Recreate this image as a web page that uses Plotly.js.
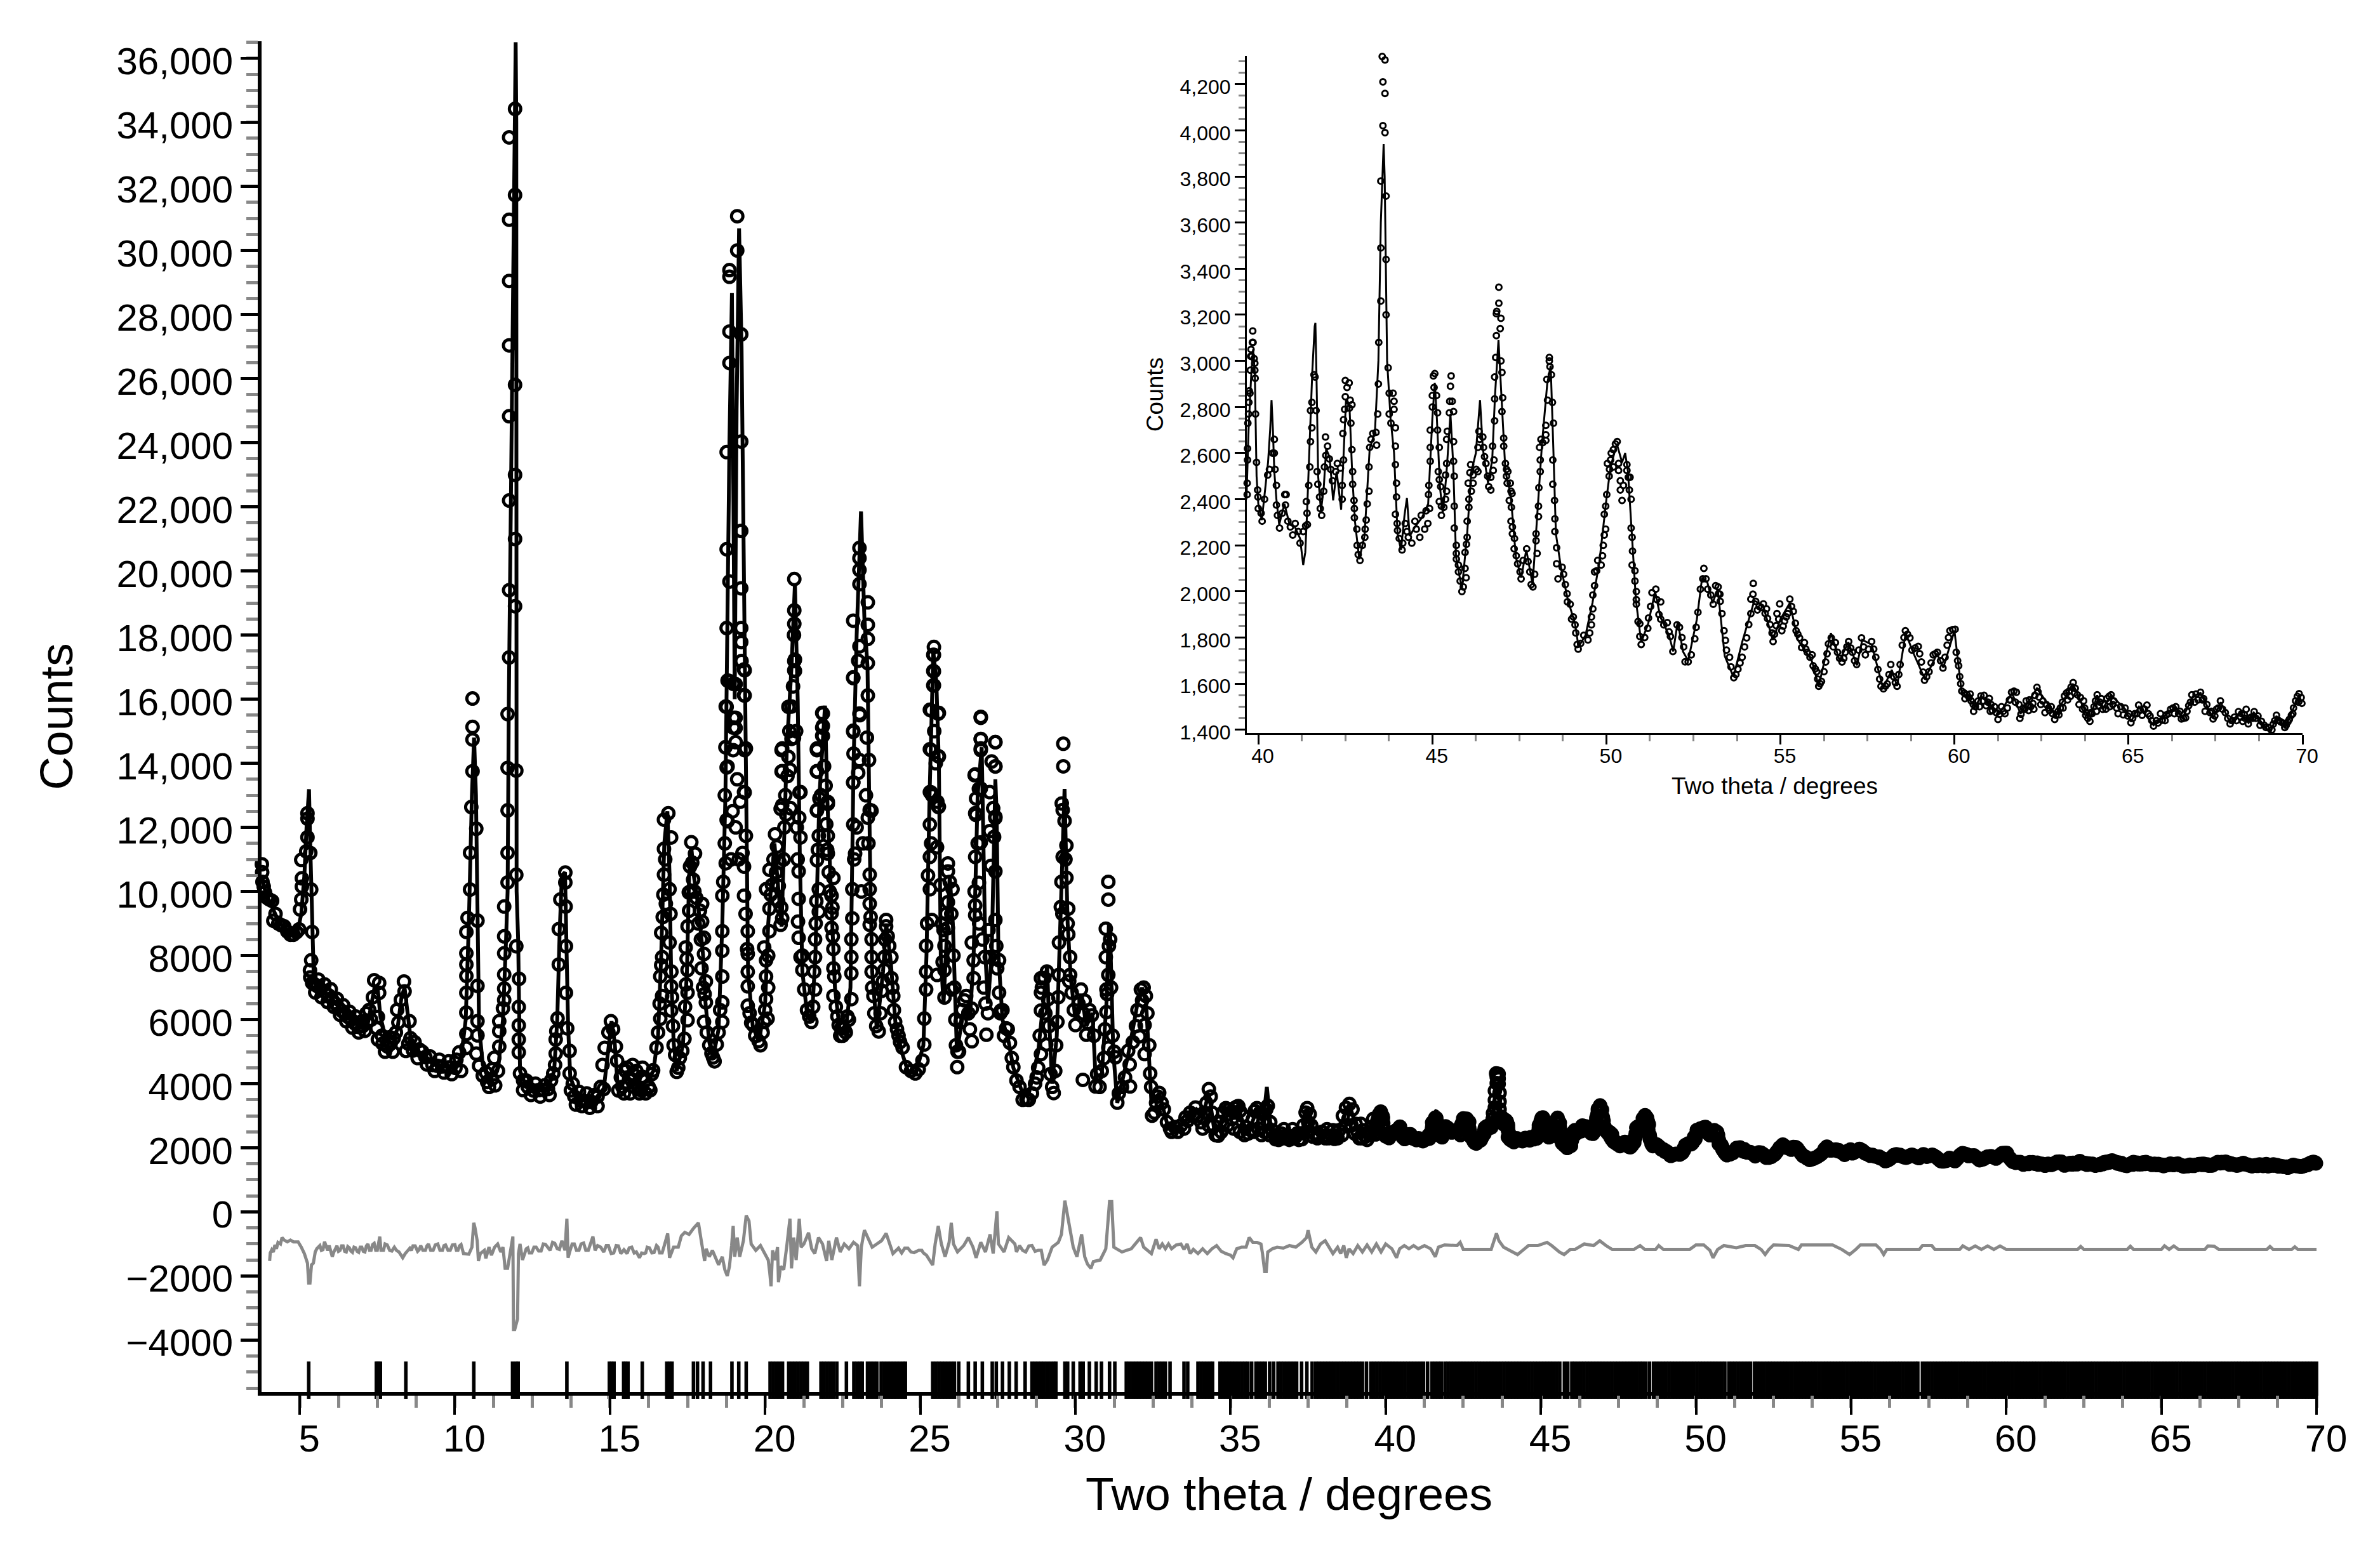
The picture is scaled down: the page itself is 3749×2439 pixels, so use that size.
<!DOCTYPE html>
<html><head><meta charset="utf-8">
<script src="https://cdn.plot.ly/plotly-3.0.1.min.js"></script>
<style>html,body{margin:0;padding:0;background:#fff}</style></head>
<body><div id="chart" style="width:3749px;height:2439px"></div>
<script>
// Observed counts as [two theta, counts]
const obsLow=[[3.78,10850],[3.79,10600],[3.8,10300],[3.84,10150],[3.88,9970],[3.95,9800],[4.02,9750],[4.11,9705],[4.15,9087],[4.22,9300],[4.31,9000],[4.4,8950],[4.5,8910],[4.6,8750],[4.7,8650],[4.8,8650],[4.9,8730],[4.98,8820],[5.01,9440],[5.05,9750],[5.07,10150],[5.07,10410],[5.05,10985],[5.21,11250],[5.25,11690],[5.25,12270],[5.25,12440],[5.34,11200],[5.37,10060],[5.4,8735],[5.37,7850],[5.33,7540],[5.34,7320],[5.4,7145],[5.48,7100],[5.56,7055],[5.68,6950],[5.8,6880],[5.92,6770],[6.03,6660],[6.13,6520],[6.23,6395],[6.35,6280],[6.46,6175],[6.56,6080],[6.66,6000],[6.78,5880],[6.89,5775],[7.03,5800],[7.17,5910],[7.24,6305],[7.36,6700],[7.4,7230],[7.56,7145],[7.56,6835],[7.52,6085],[7.48,5730],[7.52,5380],[7.67,5250],[7.83,5160],[7.93,5250],[8.03,5420],[8.18,5910],[8.14,6305],[8.26,6615],[8.36,7190],[8.38,6880],[8.54,5950],[8.57,5420],[8.42,5025],[8.65,5040],[8.85,5070],[9.05,4830],[9.28,4585],[9.43,4560],[9.59,4540],[9.8,4510],[10.02,4495],[10.14,4980],[10.37,5120],[10.37,5555],[10.37,6220],[10.37,6835],[10.37,7365],[10.37,7720],[10.37,8070],[10.37,8735],[10.41,9175],[10.49,10060],[10.49,11205],[10.53,12635],[10.57,13750],[10.57,14740],[10.57,15135],[10.57,16020],[10.69,11955],[10.73,9090],[10.73,7055],[10.73,5950],[10.73,5510],[10.69,4940],[10.78,4560],[10.9,4250],[11.04,4055],[11.2,4150],[11.39,4400],[11.27,4805],[11.43,5160],[11.43,5640],[11.43,5950],[11.55,6350],[11.59,6615],[11.59,6970],[11.59,7410],[11.59,8070],[11.59,8600],[11.59,9530],[11.7,10280],[11.7,11205],[11.7,12530],[11.7,13855],[11.7,15535],[11.75,17300],[11.75,19400],[11.75,22200],[11.75,24830],[11.75,27040],[11.75,29050],[11.75,30960],[11.75,33530],[11.94,34420],[11.94,31730],[11.94,25810],[11.94,18900],[11.94,21000],[11.94,23000],[11.98,13770],[11.98,10520],[11.98,8290],[12.07,7275],[12.06,6395],[12.06,5820],[12.06,5380],[12.06,4980],[12.1,4320],[12.2,4100],[12.35,3900],[12.53,3790],[12.7,3800],[12.85,3810],[13.0,3835],[13.17,4320],[13.23,4585],[13.25,4940],[13.25,5380],[13.27,5640],[13.31,6040],[13.35,7720],[13.35,8825],[13.4,9750],[13.57,9530],[13.56,10280],[13.56,10590],[13.58,8290],[13.58,6835],[13.62,5730],[13.7,5025],[13.7,4320],[13.74,3790],[13.85,3600],[14.05,3480],[14.2,3450],[14.4,3435],[14.6,3600],[14.8,3835],[14.76,4585],[14.83,5120],[14.95,5600],[15.03,5950],[15.1,5700],[15.19,5160],[15.23,4715],[15.27,3790],[15.4,3900],[15.5,4400],[15.62,4200],[15.73,4585],[15.78,3900],[15.85,4400],[15.92,3850],[16.0,3800],[16.15,4100],[16.25,3900],[16.35,4300]];
const obsMid=[[16.03,4220],[16.39,4420],[16.5,5125],[16.62,6030],[16.68,6740],[16.62,7350],[16.68,7950],[16.65,8710],[16.8,9615],[16.74,10525],[16.74,11330],[16.74,12240],[16.88,12440],[16.97,11685],[16.92,10070],[16.92,8405],[16.97,7040],[16.97,6285],[17.05,5200],[17.15,4370],[17.33,5025],[17.5,5985],[17.5,6840],[17.5,7550],[17.44,8255],[17.5,8910],[17.54,9970],[17.58,10780],[17.62,11535],[17.74,11180],[17.68,10370],[17.97,9615],[17.97,9060],[18.03,8555],[18.03,8050],[18.09,7195],[18.09,6540],[18.03,5930],[18.32,4820],[18.44,5225],[18.62,5930],[18.62,6540],[18.62,7345],[18.62,8150],[18.62,8760],[18.62,9870],[18.73,10880],[18.79,12190],[18.79,13900],[18.73,15770],[18.79,16580],[18.97,14410],[18.97,15115],[18.97,15420],[18.97,16480],[19.32,16930],[19.32,16125],[19.38,14460],[19.32,13100],[19.38,11735],[19.32,10775],[19.32,9870],[19.44,8760],[19.44,8050],[19.44,7495],[19.44,7040],[19.44,6435],[19.61,5830],[19.79,5330],[19.97,5930],[20.08,6030],[20.03,6640],[20.03,7345],[20.03,7850],[19.97,8255],[20.14,8760],[20.14,9465],[20.03,10070],[20.14,10675],[20.32,11785],[20.5,8960],[20.55,9160],[20.44,10170],[20.55,12690],[20.55,13755],[20.55,14460],[20.85,14760],[20.85,15770],[20.96,16880],[20.96,17235],[21.14,13100],[21.14,11685],[21.08,10625],[21.08,9770],[21.06,9060],[21.08,8555],[21.14,7950],[21.2,7550],[21.26,6940],[21.35,6300],[21.49,5930],[21.61,6940],[21.61,7950],[21.61,8505],[21.73,9365],[21.73,10070],[21.67,10975],[21.73,11735],[21.67,12540],[21.67,13755],[21.67,14460],[21.84,15570],[21.84,15115],[21.84,14860],[21.9,13905],[22.02,12795],[22.02,11735],[22.02,11180],[22.2,10420],[22.14,9870],[22.14,9315],[22.14,8860],[22.2,8205],[22.23,7345],[22.2,6740],[22.37,5830],[22.46,5750],[22.55,5730],[22.65,6100],[22.78,6640],[22.78,7445],[22.78,7950],[22.78,8505],[22.81,9160],[22.81,10070],[22.84,12090],[22.9,11180],[22.84,13400],[22.84,15015],[22.84,16680],[23.31,12300],[23.37,12540],[23.37,10525],[23.37,10070],[23.37,9615],[23.37,8960],[23.43,8505],[23.43,7950],[23.43,7495],[23.49,6740],[23.66,5630],[23.9,9110],[23.9,8910],[23.84,7950],[23.84,7550],[24.07,7950],[24.07,7295],[24.13,6740],[24.19,5930],[24.3,5500],[24.43,5125],[24.54,4520],[24.7,4400],[24.84,4320],[24.95,4450],[25.07,4725],[25.13,5225],[25.13,6035],[25.19,6940],[25.19,7495],[25.19,8305],[25.37,9110],[25.31,10070],[25.31,11080],[25.31,12090],[25.31,13100],[25.31,14440],[25.31,15670],[25.42,16430],[25.42,16880],[25.42,17385],[25.6,15570],[25.6,14210],[25.6,12645],[25.54,11380],[25.54,7395],[25.78,6690],[25.78,8305],[25.78,7545],[25.89,8860],[25.89,9665],[26.04,10070],[25.89,10875],[25.89,10625],[26.01,6940],[26.19,4520],[26.3,5930],[26.48,6740],[26.66,5325],[26.66,6340],[26.72,7295],[26.72,7850],[26.66,8405],[26.77,9260],[26.77,9565],[26.77,11080],[26.77,12440],[26.77,13650],[26.95,15420],[26.95,14760],[26.95,14460],[26.89,13200],[26.95,11530],[26.89,10270],[27.24,11885],[27.24,13100],[27.3,14055],[27.42,13905],[27.42,14660],[27.42,12290],[27.42,10625],[27.42,9110],[27.54,7850],[27.54,6840],[27.07,7950],[27.24,7950],[27.13,5530],[27.6,6285],[27.77,5730],[27.89,5275],[28.0,4520],[28.2,3900],[28.42,3510],[28.6,3700],[28.75,4200],[28.89,4925],[28.89,6285],[28.89,6840],[28.89,7295],[29.12,6640],[29.06,5225],[29.2,4300],[29.3,3710],[29.42,5930],[29.47,7395],[29.47,8405],[29.53,9515],[29.59,11080],[29.56,12745],[29.59,12540],[29.71,10425],[29.71,11435],[29.61,13905],[29.61,14610],[29.77,9465],[29.77,8660],[29.83,7950],[29.83,7395],[29.88,6840],[30.18,6940],[30.3,6590],[30.0,5830],[30.53,6135],[30.35,5530],[30.24,4120],[30.65,3915],[30.85,4400],[31.06,5125],[31.0,6235],[31.0,6940],[31.06,7395],[30.98,7950],[31.12,8505],[30.98,8840],[31.06,9745],[31.06,10300],[31.29,4825],[31.35,3410],[31.5,3900],[31.7,5025],[32.11,6940],[32.27,6740],[32.23,5830],[32.06,5480],[31.76,3915],[32.23,4925],[32.41,4320],[32.47,3005],[32.6,3400],[32.7,3715],[32.85,3200],[33.05,2600],[33.2,2650],[33.4,2700],[33.55,2950],[33.7,3100],[33.87,3260],[33.95,3000]];
const obsPeaks=[[19.1,31070],[19.1,30000],[18.85,29390],[18.85,29180],[18.85,27470],[19.23,27385],[18.85,26490],[19.23,24040],[18.76,23710],[19.23,21250],[18.76,20680],[18.85,19670],[19.23,19460],[18.76,18220],[19.23,18220],[19.23,17780],[19.24,17190],[19.34,16900],[18.85,16560],[19.05,16470],[19.05,15420],[18.76,15760],[19.05,15100],[19.05,14660],[19.34,16115],[19.34,14410],[18.76,13870],[19.34,13090],[18.76,12230],[20.94,19750],[20.94,18770],[20.94,18350],[20.94,17190],[20.94,16900],[20.75,15760],[20.93,14790],[20.53,14410],[20.53,13740],[21.11,13090],[20.5,12580],[21.86,15550],[21.86,15170],[21.86,14850],[21.67,14410],[21.67,13740],[21.67,12520],[22.02,12730],[23.04,20720],[23.04,20400],[23.04,20030],[23.04,19590],[23.31,19020],[23.31,18320],[23.31,17880],[22.84,18450],[23.04,17650],[23.31,17125],[22.84,16660],[23.04,15550],[22.84,14980],[23.31,16115],[23.04,14100],[23.35,14100],[22.84,13400],[23.43,12520],[25.44,17630],[25.44,17380],[25.44,16870],[25.44,16430],[25.35,15650],[25.58,15550],[25.35,14410],[25.58,14220],[25.35,13090],[25.58,12640],[26.95,15450],[26.95,14750],[26.95,14410],[27.42,14660],[27.42,13900],[26.75,13630],[26.95,13210],[26.79,12390],[27.42,12330]];
const obsExtra=[[5.5,6850],[5.6,7250],[5.7,6700],[5.8,7100],[5.9,6550],[6.0,6950],[6.1,6400],[6.2,6650],[6.3,6150],[6.4,6450],[6.5,5950],[6.6,6250],[6.7,5750],[6.8,6100],[6.9,5600],[7.0,5950],[7.1,5650],[7.15,6200],[7.3,6000],[7.65,5500],[7.75,5000],[7.9,5450],[8.0,5000],[8.1,5600],[8.5,5250],[8.7,5300],[8.8,4800],[8.95,5000],[9.1,4600],[9.2,4850],[9.35,4400],[9.5,4750],[9.65,4350],[9.8,4700],[9.9,4300],[10.05,4750],[10.2,4400],[11.0,4350],[11.1,3900],[11.2,4450],[11.3,3950],[12.2,3800],[12.3,4100],[12.45,3650],[12.6,4000],[12.75,3600],[12.9,3950],[13.05,3650],[13.1,4100],[13.8,4000],[13.9,3350],[14.0,3750],[14.1,3300],[14.25,3700],[14.35,3250],[14.5,3650],[14.6,3300],[14.7,3900],[15.35,4200],[15.45,3700],[15.55,4500],[15.65,3700],[15.75,4300],[15.95,3700],[16.05,4500],[16.15,3700],[16.3,3800],[16.55,5600],[16.6,6500],[16.65,7700],[16.7,9200],[16.72,9900],[16.78,11000],[16.95,9300],[16.98,7500],[17.0,6700],[17.03,5800],[17.1,4900],[17.2,4500],[17.25,4800],[17.4,5400],[17.42,6400],[17.45,7100],[17.47,7900],[17.55,9400],[17.6,10000],[17.65,10900],[17.72,10000],[17.78,9800],[17.85,9000],[17.9,9400],[17.93,8500],[17.95,7600],[18.0,7000],[18.05,6800],[18.12,5600],[18.2,5200],[18.27,4950],[18.37,4700],[18.5,5600],[18.55,6300],[18.65,10300],[18.7,11500],[18.7,13000],[18.72,14500],[18.9,11000],[18.95,12500],[19.05,12000],[19.1,13500],[19.15,11000],[19.2,12800],[19.27,11200],[19.37,9300],[19.42,8200],[19.5,6200],[19.55,5900],[19.68,5500],[19.85,5200],[19.92,5600],[20.0,6300],[20.1,7000],[20.1,8000],[20.18,9900],[20.22,10200],[20.27,11000],[20.35,10600],[20.38,11400],[20.42,9700],[20.47,10900],[20.52,9500],[20.6,11000],[20.62,12000],[20.65,13000],[20.68,12400],[20.72,13600],[20.75,14200],[20.78,15000],[20.8,13800],[20.82,12600],[20.9,16400],[20.93,18000],[21.0,15000],[21.02,12000],[21.05,11000],[21.1,12300],[21.2,8000],[21.42,6100],[21.55,6400],[21.58,7500],[21.63,9000],[21.65,9700],[21.7,11300],[21.75,12900],[21.8,13000],[21.95,13300],[21.97,12100],[22.0,11300],[22.05,10600],[22.08,10000],[22.17,9500],[22.18,8600],[22.2,7600],[22.28,6400],[22.33,6100],[22.42,5500],[22.5,5500],[22.6,5600],[22.7,6000],[22.85,14300],[22.87,11000],[22.95,12000],[23.0,17200],[23.0,13700],[23.05,15500],[23.1,10000],[23.15,11500],[23.25,13000],[23.28,14800],[23.33,11500],[23.4,9200],[23.45,7000],[23.52,6200],[23.58,5800],[23.72,6200],[23.76,6900],[23.8,7200],[23.87,8500],[23.95,8600],[24.0,8300],[24.1,7000],[24.15,6300],[24.25,5700],[24.35,5300],[25.22,9000],[25.25,10500],[25.35,11500],[25.38,13000],[25.45,15000],[25.5,14000],[25.55,12800],[25.65,10200],[25.7,9000],[25.72,7800],[25.75,8800],[25.83,9300],[25.95,10300],[26.0,9300],[26.07,8000],[26.1,7000],[26.13,6000],[26.15,5200],[26.2,5000],[26.25,5000],[26.35,6300],[26.42,6600],[26.55,6200],[26.6,5700],[26.75,10000],[26.8,12900],[26.85,11500],[26.9,9000],[27.0,8500],[27.05,7000],[27.1,6500],[27.18,6200],[27.2,8800],[27.28,10800],[27.35,12600],[27.38,11700],[27.45,8300],[27.48,7600],[27.58,6200],[27.65,6300],[27.7,5500],[27.82,5700],[27.95,4800],[28.1,4100],[28.3,3500],[28.5,3500],[28.7,4000],[28.8,4500],[28.85,5500],[28.92,7000],[29.0,7300],[29.03,6200],[29.08,7500],[29.15,5800],[29.25,3900],[29.35,4400],[29.38,5200],[29.45,6700],[29.55,10300],[29.58,9300],[29.65,12200],[29.68,11000],[29.75,9000],[29.8,7200],[29.95,6300],[30.1,6500],[30.25,6200],[30.4,5900],[30.45,6300],[30.6,5500],[30.7,4300],[30.78,3900],[30.92,4800],[30.95,5700],[31.02,6800],[31.08,8300],[31.15,7000],[31.2,5500],[31.25,5000],[31.4,3700],[31.6,4200],[31.75,4600],[31.85,5300],[31.95,5800],[32.0,6300],[32.15,6600],[32.2,7000],[32.32,6200],[32.38,5200],[32.44,3900],[32.55,3100],[32.65,3600],[32.78,3400],[32.95,2800],[33.1,2500],[33.3,2500],[33.5,2600],[33.62,2850],[33.8,3000],[34.1,2600],[34.3,2700],[34.7,2500],[34.9,2700],[35.1,2600],[35.3,2500],[35.45,2400],[35.75,2500],[35.9,2600],[36.0,2400],[36.1,2500],[36.25,2400],[36.5,2400],[36.6,2300],[36.75,2300],[36.95,2300],[37.05,2300],[37.15,2450],[37.25,2450],[37.45,2500],[37.5,2800],[37.65,2350],[37.8,2300],[37.95,2500],[38.05,2300],[38.15,2300],[38.3,2550],[38.35,2280],[38.45,2300],[38.6,2400],[38.7,2700],[38.8,2900],[38.9,2700],[39.0,2450],[39.15,2300],[39.25,2300],[39.35,2350],[39.45,2450],[39.55,2650],[34.95,3050],[35.15,3100],[35.25,3300],[36.0,3100]];
const obsTail=[[34.05,2800],[34.15,3100],[34.22,3400],[34.3,3830],[34.36,3600],[34.4,3100],[34.45,2700],[34.52,2400],[34.6,2380],[34.68,2800],[34.76,3100],[34.85,3240],[34.95,3200],[35.05,2900],[35.12,3240],[35.2,3280],[35.3,3150],[35.4,3000],[35.5,2650],[35.57,2450],[35.65,2550],[35.72,2900],[35.78,3150],[35.85,3240],[35.95,3100],[36.05,2800],[36.15,3200],[36.2,3310],[36.28,2800],[36.35,2550],[36.45,2270],[36.55,2250],[36.62,2450],[36.72,2580],[36.82,2350],[36.9,2250],[37.0,2580],[37.1,2350],[37.2,2250],[37.3,2270],[37.35,2700],[37.42,3100],[37.47,3240],[37.55,3050],[37.6,2700],[37.7,2450],[37.85,2380],[38.0,2380],[38.11,2580],[38.25,2380],[38.4,2380],[38.5,2550],[38.62,3000],[38.72,3250],[38.83,3370],[38.93,3200],[39.03,2750],[39.1,2500],[39.2,2750],[39.3,2550],[39.4,2250],[39.5,2400],[39.6,2900]];
const obsInsetA=[[39.68,2420],[39.68,2470],[39.69,2570],[39.69,2620],[39.7,2730],[39.72,2770],[39.73,2820],[39.74,2870],[39.76,2860],[39.77,2960],[39.78,3020],[39.79,3050],[39.81,3020],[39.83,3080],[39.84,3130],[39.85,3080],[39.88,3010],[39.9,2990],[39.9,2960],[39.91,2925],[39.92,2770],[39.95,2560],[39.98,2440],[39.99,2410],[40.0,2360],[40.08,2340],[40.11,2305],[40.18,2400],[40.27,2505],[40.32,2530],[40.41,2600],[40.46,2660],[40.46,2600],[40.48,2530],[40.52,2460],[40.52,2375],[40.55,2330],[40.61,2275],[40.69,2340],[40.76,2420],[40.8,2420],[40.78,2375],[40.85,2305],[40.92,2280],[40.99,2245],[41.06,2295],[41.15,2260],[41.2,2210],[41.29,2260],[41.36,2285],[41.41,2290],[41.4,2340],[41.38,2390],[41.45,2460],[41.48,2540],[41.5,2650],[41.54,2710],[41.54,2820],[41.5,2785],[41.6,2940],[41.63,2930],[41.66,2785],[41.69,2520],[41.71,2465],[41.76,2410],[41.78,2360],[41.82,2330],[41.88,2435],[41.93,2670],[41.94,2590],[41.9,2540],[41.99,2630],[42.04,2575],[42.08,2530],[42.13,2480],[42.22,2520],[42.27,2555],[42.36,2535],[42.41,2460],[42.41,2400],[42.45,2570],[42.43,2685],[42.45,2745],[42.48,2790],[42.5,2845],[42.5,2915],[42.55,2885],[42.61,2905],[42.64,2830],[42.62,2795],[42.69,2810],[42.66,2730],[42.69,2615],[42.71,2520],[42.71,2465],[42.75,2395],[42.76,2360],[42.76,2320],[42.83,2270],[42.84,2200],[42.87,2160],[42.92,2135],[42.99,2200],[43.06,2235],[43.07,2270],[43.1,2310],[43.13,2380],[43.18,2435],[43.18,2540],[43.2,2625],[43.24,2660],[43.29,2685],[43.38,2690],[43.4,2635],[43.43,2770],[43.45,2900],[43.46,3080],[43.52,3260],[43.52,3490],[43.52,3780],[43.58,4020],[43.64,3990],[43.58,4210],[43.64,4160],[43.56,4320],[43.64,4305],[43.67,3715],[43.67,3440],[43.67,3200],[43.73,2970],[43.76,2860],[43.87,2860],[43.9,2825],[43.9,2790],[43.76,2770],[43.81,2730],[43.94,2710],[43.94,2630],[43.94,2550],[43.97,2470],[43.97,2410],[43.94,2335],[43.99,2295],[44.0,2265],[44.05,2230],[44.13,2180],[44.15,2210],[44.22,2295],[44.27,2260],[44.31,2235],[44.41,2210],[44.5,2305],[44.54,2270],[44.64,2235],[44.68,2330],[44.82,2350],[44.78,2270],[44.87,2295],[44.92,2360],[44.89,2420],[44.9,2460],[44.94,2565],[44.94,2625],[44.94,2700],[45.0,2800],[45.0,2850],[45.05,2885],[45.03,2935],[45.07,2945],[45.12,2850],[45.15,2775],[45.15,2700],[45.2,2625],[45.17,2520],[45.2,2485],[45.24,2455],[45.2,2390],[45.26,2370],[45.26,2330],[45.33,2365],[45.38,2400],[45.41,2435],[45.38,2505],[45.41,2555],[45.41,2660],[45.43,2695],[45.49,2775],[45.5,2825],[45.52,2890],[45.54,2935],[45.57,2825],[45.61,2780],[45.61,2650],[45.61,2565],[45.63,2500],[45.63,2370],[45.63,2275],[45.69,2200],[45.69,2165],[45.69,2140],[45.75,2115],[45.75,2085],[45.8,2045],[45.85,2000],[45.89,2020],[45.97,2060],[45.94,2100],[45.94,2170],[45.98,2205],[46.0,2235],[46.0,2305],[46.05,2365],[46.05,2400],[46.12,2435],[46.17,2470],[46.03,2470],[46.17,2505],[46.08,2515],[46.1,2550],[46.26,2530],[46.31,2520],[46.31,2625],[46.36,2660],[46.34,2695],[46.45,2670],[46.47,2625],[46.5,2585],[46.54,2555],[46.59,2500],[46.62,2455],[46.68,2495],[46.68,2440],[46.75,2525],[46.77,2570],[46.73,2630],[46.79,2740],[46.79,2835],[46.79,2930],[46.82,3015],[46.84,3110],[46.84,3205],[46.91,3320],[46.91,3250],[46.85,3215],[46.97,3185],[46.95,3140],[46.97,3000],[47.0,2950],[47.02,2840],[47.0,2780],[47.05,2665],[47.05,2630],[47.1,2555],[47.13,2530],[47.13,2500],[47.17,2520],[47.15,2470],[47.24,2470],[47.26,2435],[47.29,2425],[47.21,2395],[47.27,2365],[47.26,2305],[47.3,2280],[47.3,2250],[47.36,2230],[47.35,2185],[47.41,2155],[47.45,2120],[47.52,2085],[47.55,2055],[47.61,2135],[47.71,2185],[47.75,2130],[47.8,2085],[47.84,2030],[47.89,2020],[47.94,2075],[47.98,2220],[47.98,2250],[48.01,2165],[48.05,2325],[48.05,2370],[48.06,2450],[48.1,2520],[48.1,2570],[48.08,2625],[48.12,2660],[48.17,2645],[48.26,2655],[48.26,2680],[48.26,2720],[48.31,2830],[48.29,2920],[48.36,3000],[48.36,3015],[48.38,2975],[48.42,2940],[48.45,2820],[48.48,2730],[48.46,2570],[48.46,2465],[48.51,2395],[48.52,2315],[48.52,2260],[48.57,2190],[48.57,2120],[48.61,2055],[48.73,2105],[48.77,2075],[48.82,2030],[48.87,1990],[48.88,1955],[48.96,1945],[49.0,1880],[49.05,1890],[49.1,1855],[49.12,1820],[49.16,1770],[49.19,1750],[49.26,1775],[49.35,1810],[49.47,1790],[49.52,1820],[49.57,1855],[49.57,1890],[49.61,1925],[49.61,1985],[49.66,2025],[49.66,2085],[49.72,2090],[49.75,2135],[49.85,2115],[49.89,2155],[49.91,2200],[49.94,2245],[49.98,2270],[49.94,2335],[49.98,2370],[50.01,2420],[50.08,2500],[50.09,2530],[50.03,2555],[50.12,2570],[50.14,2600],[50.2,2615],[50.26,2640],[50.31,2650],[50.2,2540],[50.35,2555],[50.35,2525],[50.4,2480],[50.4,2440],[50.45,2395],[50.49,2460],[50.59,2550],[50.59,2525],[50.63,2495],[50.68,2495],[50.66,2440],[50.71,2400],[50.71,2275],[50.74,2235],[50.75,2175],[50.74,2115],[50.82,2090],[50.82,2045],[50.86,2000],[50.86,1965],[50.86,1945],[50.91,1870],[50.96,1860],[50.96,1805],[51.0,1770],[51.1,1800],[51.19,1840],[51.21,1885],[51.27,1935],[51.31,1995],[51.42,2010],[51.45,1965],[51.56,1955],[51.51,1900],[51.56,1880],[51.65,1855],[51.75,1865],[51.8,1825],[51.84,1805],[51.91,1740],[52.03,1855],[52.1,1845],[52.17,1800],[52.22,1760],[52.26,1695],[52.35,1695],[52.44,1725],[52.54,1795],[52.58,1845],[52.63,1910],[52.7,2010],[52.77,2055],[52.8,2100],[52.86,2055],[52.91,2010],[53.0,1985],[53.07,1945],[53.14,2025],[53.22,1990]];
const obsInsetB=[[53.21,2020],[53.26,1988],[53.27,1957],[53.32,1904],[53.38,1830],[53.42,1788],[53.45,1746],[53.54,1715],[53.58,1673],[53.66,1626],[53.72,1640],[53.78,1663],[53.84,1690],[53.9,1715],[53.97,1760],[54.03,1799],[54.09,1857],[54.15,1904],[54.15,1967],[54.21,1988],[54.22,2035],[54.29,1957],[54.34,1920],[54.39,1935],[54.45,1930],[54.51,1946],[54.56,1905],[54.6,1925],[54.63,1883],[54.7,1857],[54.76,1820],[54.79,1783],[54.83,1815],[54.88,1852],[54.9,1904],[54.95,1880],[54.98,1946],[55.04,1830],[55.08,1850],[55.12,1872],[55.17,1890],[55.21,1904],[55.27,1967],[55.32,1935],[55.37,1914],[55.43,1862],[55.45,1830],[55.5,1815],[55.55,1799],[55.61,1757],[55.69,1778],[55.73,1750],[55.77,1736],[55.85,1715],[55.91,1725],[55.94,1678],[56.0,1665],[56.04,1652],[56.07,1620],[56.1,1589],[56.14,1600],[56.18,1610],[56.25,1652],[56.3,1694],[56.34,1730],[56.38,1773],[56.46,1799],[56.52,1760],[56.58,1778],[56.64,1736],[56.7,1710],[56.77,1694],[56.82,1710],[56.86,1736],[56.91,1760],[56.96,1783],[57.02,1755],[57.07,1736],[57.13,1700],[57.19,1683],[57.25,1746],[57.33,1799],[57.39,1760],[57.44,1725],[57.53,1750],[57.62,1783],[57.68,1750],[57.74,1715],[57.8,1662],[57.85,1620],[57.89,1589],[57.96,1578],[58.02,1590],[58.07,1599],[58.12,1640],[58.17,1683],[58.25,1631],[58.3,1605],[58.35,1589],[58.4,1640],[58.44,1683],[58.5,1767],[58.55,1800],[58.59,1830],[58.65,1815],[58.72,1799],[58.78,1746],[58.87,1755],[58.96,1762],[59.0,1730],[59.05,1694],[59.1,1650],[59.14,1615],[59.2,1630],[59.27,1652],[59.33,1690],[59.39,1725],[59.45,1730],[59.51,1736],[59.6,1700],[59.67,1668],[59.73,1715],[59.79,1767],[59.83,1800],[59.87,1830],[59.95,1835],[60.02,1836],[60.05,1736],[60.09,1700],[60.12,1678],[60.15,1631],[60.18,1600],[60.21,1568],[60.28,1560],[60.36,1552],[60.42,1540],[60.48,1526],[60.54,1510],[60.6,1500],[60.68,1525],[60.76,1547],[60.83,1525],[60.91,1505],[60.96,1520],[61.0,1536],[61.05,1510],[61.09,1484],[61.2,1475],[61.3,1468],[61.4,1480],[61.52,1495],[61.58,1530],[61.64,1563],[61.71,1568],[61.78,1563],[61.85,1510],[61.91,1468],[61.98,1495],[62.06,1526],[62.1,1505],[62.13,1484],[62.19,1500],[62.25,1515],[62.31,1550],[62.37,1584],[62.4,1565],[62.43,1542],[62.54,1525],[62.64,1510],[62.7,1495],[62.73,1484],[62.82,1470],[62.92,1463],[62.98,1480],[63.04,1495],[63.1,1520],[63.16,1547],[63.22,1560],[63.29,1568],[63.35,1585],[63.41,1605],[63.47,1580],[63.53,1552],[63.62,1540],[63.71,1526],[63.74,1495],[63.77,1463],[63.83,1450],[63.89,1437],[63.95,1470],[64.01,1500],[64.05,1525],[64.1,1552],[64.18,1520],[64.26,1489],[64.32,1510],[64.38,1536],[64.44,1545],[64.5,1552],[64.58,1525],[64.66,1495],[64.78,1500],[64.9,1495],[64.98,1460],[65.07,1431],[65.18,1470],[65.29,1507],[65.34,1485],[65.39,1463],[65.46,1490],[65.53,1507],[65.62,1460],[65.72,1416],[65.85,1430],[65.97,1442],[66.09,1465],[66.21,1489],[66.28,1495],[66.36,1500],[66.44,1470],[66.52,1447],[66.58,1450],[66.64,1452],[66.73,1505],[66.82,1552],[66.94,1555],[67.07,1563],[67.16,1535],[67.25,1510],[67.34,1475],[67.43,1447],[67.53,1490],[67.64,1526],[67.78,1475],[67.92,1426],[68.04,1455],[68.16,1479],[68.22,1455],[68.28,1437],[68.33,1465],[68.38,1489],[68.44,1426],[68.52,1455],[68.61,1479],[68.72,1460],[68.82,1437],[68.95,1410],[69.07,1384],[69.16,1425],[69.25,1463],[69.37,1435],[69.49,1410],[69.58,1435],[69.68,1463],[69.74,1495],[69.8,1526],[69.85,1545],[69.9,1557],[69.96,1540],[69.98,1515]];
const obsInsetC=[[60.3,1535],[60.45,1555],[60.55,1480],[60.72,1500],[60.85,1550],[61.03,1480],[61.15,1500],[61.25,1445],[61.35,1500],[61.45,1470],[61.6,1530],[61.75,1520],[61.88,1450],[62.02,1490],[62.15,1530],[62.28,1490],[62.48,1510],[62.6,1475],[62.78,1500],[62.88,1445],[63.0,1465],[63.12,1495],[63.25,1530],[63.33,1545],[63.45,1560],[63.58,1510],[63.68,1490],[63.8,1475],[63.92,1475],[64.08,1480],[64.14,1505],[64.22,1535],[64.35,1490],[64.46,1500],[64.55,1510],[64.7,1470],[64.85,1465],[65.02,1470],[65.12,1450],[65.24,1470],[65.42,1490],[65.57,1470],[65.67,1440],[65.8,1440],[65.92,1470],[66.05,1440],[66.15,1470],[66.32,1470],[66.48,1480],[66.68,1480],[66.78,1520],[66.9,1520],[67.0,1530],[67.12,1530],[67.2,1480],[67.38,1480],[67.48,1460],[67.58,1495],[67.7,1490],[67.85,1450],[67.98,1440],[68.1,1440],[68.25,1470],[68.35,1450],[68.48,1450],[68.57,1450],[68.66,1450],[68.78,1420],[68.9,1420],[69.03,1410],[69.12,1400],[69.2,1440],[69.32,1440],[69.43,1430],[69.53,1420],[69.62,1445],[69.72,1470],[69.88,1520]];

// Calculated profile as [two theta, counts]
const calcMain=[[3.78,10500],[3.9,9950],[4.05,9650],[4.3,9100],[4.6,8700],[4.9,8600],[5.05,9300],[5.15,10500],[5.22,12000],[5.3,13190],[5.33,11800],[5.37,10000],[5.4,8500],[5.45,7400],[5.6,7000],[6.0,6700],[6.5,6150],[7.0,5850],[7.2,5900],[7.3,6400],[7.42,7050],[7.52,6900],[7.6,6100],[7.75,5500],[8.0,5400],[8.15,5700],[8.28,6700],[8.38,7000],[8.48,6200],[8.6,5200],[8.9,4950],[9.4,4600],[10.0,4500],[10.2,4800],[10.35,6000],[10.45,9000],[10.55,13000],[10.62,14800],[10.68,13000],[10.72,9000],[10.78,5800],[10.9,4600],[11.1,4100],[11.4,4500],[11.55,6000],[11.65,8500],[11.7,10000],[11.74,16000],[11.82,24000],[11.9,32000],[11.94,36000],[11.96,36500],[11.98,34000],[11.98,14000],[11.99,10000],[12.04,8500],[12.07,6000],[12.1,4400],[12.3,3900],[13.0,3850],[13.2,4400],[13.3,6000],[13.38,8800],[13.45,10500],[13.55,10600],[13.6,8500],[13.65,5800],[13.72,4200],[14.0,3500],[14.5,3500],[14.8,3850],[14.95,5100],[15.05,5950],[15.15,5300],[15.25,3900],[15.4,3950],[15.5,4400],[15.7,3900],[15.85,4300],[16.0,3900],[16.2,4100],[16.4,4400],[16.55,5500],[16.65,8000],[16.75,11500],[16.85,12500],[16.92,10500],[16.97,7500],[17.05,5300],[17.15,4400],[17.35,5200],[17.48,7500],[17.55,10500],[17.62,11400],[17.7,10500],[17.85,9500],[18.0,8000],[18.08,6500],[18.2,5300],[18.32,4800],[18.5,5700],[18.62,9000],[18.72,13000],[18.85,24000],[18.93,28670],[18.98,22000],[19.02,16000],[19.08,25000],[19.16,30690],[19.24,27000],[19.32,20000],[19.38,13000],[19.45,7500],[19.6,5800],[19.8,5300],[20.0,6500],[20.1,9000],[20.3,11500],[20.45,10000],[20.53,8900],[20.7,14500],[20.85,17000],[20.96,19600],[21.05,16000],[21.12,11000],[21.2,7500],[21.35,6200],[21.5,5900],[21.62,8000],[21.75,13000],[21.93,15800],[22.0,13000],[22.1,10500],[22.25,7000],[22.4,5700],[22.6,5700],[22.75,7000],[22.85,14000],[22.95,18000],[23.09,21860],[23.2,18500],[23.3,17000],[23.38,11000],[23.45,7500],[23.6,5700],[23.8,7500],[23.9,9000],[24.05,7800],[24.2,5900],[24.4,5000],[24.6,4400],[24.85,4300],[25.1,5200],[25.2,8000],[25.3,13000],[25.42,17500],[25.52,16500],[25.6,14000],[25.66,8000],[25.75,6500],[25.85,8500],[25.95,10500],[26.05,9000],[26.18,5000],[26.4,6300],[26.6,6000],[26.72,8000],[26.85,13000],[26.98,14500],[27.05,11000],[27.1,8000],[27.18,6500],[27.3,8000],[27.42,13500],[27.46,12500],[27.52,8000],[27.65,6000],[27.85,5300],[28.0,4500],[28.3,3700],[28.5,3700],[28.8,5000],[28.95,6500],[29.09,7700],[29.13,6500],[29.25,4000],[29.4,5500],[29.5,9000],[29.65,13200],[29.7,11000],[29.75,9000],[29.85,7300],[30.0,6000],[30.2,6800],[30.35,5800],[30.55,6200],[30.65,4200],[30.85,4300],[31.0,6500],[31.08,9000],[31.12,8700],[31.22,5000],[31.35,3400],[31.7,4900],[32.0,6500],[32.15,7000],[32.28,6500],[32.45,3400],[32.7,3700],[33.0,2600],[33.4,2700],[33.9,3200],[34.1,3000],[34.3,3700],[34.5,2400],[34.85,3200],[35.05,2900],[35.2,3250],[35.57,2450],[35.85,3200],[36.05,2800],[36.17,3900],[36.28,2800],[36.5,2260],[36.72,2560],[36.9,2260],[37.0,2560],[37.25,2260],[37.47,3200],[37.7,2450],[38.11,2560],[38.4,2380],[38.83,3350],[39.1,2500],[39.2,2720],[39.4,2260],[39.66,2400]];
const calcInset=[[39.72,2700],[39.8,2950],[39.85,3050],[39.9,2950],[39.95,2500],[40.0,2380],[40.1,2310],[40.18,2420],[40.28,2560],[40.34,2700],[40.38,2830],[40.42,2700],[40.46,2520],[40.52,2400],[40.6,2290],[40.75,2380],[40.9,2290],[41.05,2280],[41.2,2230],[41.29,2115],[41.35,2170],[41.4,2340],[41.48,2650],[41.55,2950],[41.62,3150],[41.64,3165],[41.67,2950],[41.72,2500],[41.8,2350],[41.88,2450],[41.95,2620],[42.05,2580],[42.15,2395],[42.25,2520],[42.38,2355],[42.45,2600],[42.52,2830],[42.62,2800],[42.7,2500],[42.78,2300],[42.9,2140],[43.05,2240],[43.2,2620],[43.35,2690],[43.45,3000],[43.52,3600],[43.6,3940],[43.63,3800],[43.7,3000],[43.8,2750],[43.9,2600],[44.0,2250],[44.1,2180],[44.2,2330],[44.27,2405],[44.35,2240],[44.5,2280],[44.7,2320],[44.88,2380],[45.0,2750],[45.07,2905],[45.13,2750],[45.22,2450],[45.3,2340],[45.4,2500],[45.52,2770],[45.6,2550],[45.68,2150],[45.85,2010],[46.0,2250],[46.12,2520],[46.25,2600],[46.37,2830],[46.45,2620],[46.6,2470],[46.72,2570],[46.8,2850],[46.9,3090],[47.0,2800],[47.1,2520],[47.25,2420],[47.4,2150],[47.55,2060],[47.7,2180],[47.88,2030],[48.0,2300],[48.15,2640],[48.3,2900],[48.4,2980],[48.47,2650],[48.55,2250],[48.7,2100],[48.9,1960],[49.1,1860],[49.2,1760],[49.4,1810],[49.6,1950],[49.8,2130],[50.0,2400],[50.12,2540],[50.3,2640],[50.45,2560],[50.54,2600],[50.62,2520],[50.72,2280],[50.85,1960],[51.0,1780],[51.2,1860],[51.4,2000],[51.55,1890],[51.8,1810],[51.92,1740],[52.05,1870],[52.2,1740],[52.35,1700],[52.6,1880],[52.75,2060],[52.9,2040],[53.05,1950],[53.2,2010],[53.4,1720],[53.65,1630],[53.9,1780],[54.1,1880],[54.25,1960],[54.5,1940],[54.78,1790],[55.0,1880],[55.27,1950],[55.5,1790],[55.9,1700],[56.1,1590],[56.45,1820],[56.7,1700],[56.95,1780],[57.2,1680],[57.35,1790],[57.62,1770],[57.95,1580],[58.2,1660],[58.35,1590],[58.6,1820],[58.8,1740],[59.15,1620],[59.5,1730],[59.68,1670],[60.0,1830],[60.2,1570],[60.6,1500],[60.76,1545],[61.3,1470],[61.65,1560],[61.9,1470],[62.37,1580],[62.9,1465],[63.4,1600],[63.88,1440],[64.1,1550],[64.25,1490],[64.5,1550],[64.9,1490],[65.07,1435],[65.3,1500],[65.72,1420],[66.35,1500],[66.55,1450],[66.85,1545],[67.07,1560],[67.43,1450],[67.65,1520],[67.92,1430],[68.2,1475],[68.45,1430],[68.6,1475],[69.07,1385],[69.25,1460],[69.5,1410],[69.9,1550],[69.99,1515]];

// Difference curve as [two theta, counts]
const diffA=[[4.03,-1530],[4.05,-1280],[4.1,-1180],[4.15,-1250],[4.2,-1030],[4.25,-1150],[4.3,-950],[4.38,-1000],[4.43,-800],[4.5,-880],[4.6,-935],[4.7,-880],[4.8,-935],[4.95,-935],[5.05,-1100],[5.15,-1300],[5.25,-1600],[5.29,-2220],[5.33,-2220],[5.38,-1650],[5.44,-1600],[5.5,-1250],[5.55,-1150],[5.65,-1050],[5.7,-1200],[5.8,-930],[5.9,-1200],[5.95,-1050],[6.05,-1400],[6.1,-1250],[6.2,-1060],[6.3,-1200],[6.4,-1060],[6.5,-1250],[6.6,-1120],[6.7,-1260],[6.8,-1120],[6.9,-1260],[7.0,-1100],[7.1,-1250],[7.2,-1000],[7.3,-1200],[7.4,-980],[7.5,-1200],[7.58,-770],[7.62,-1200],[7.75,-1000],[7.9,-1200],[8.05,-1100],[8.2,-1250],[8.32,-1430],[8.4,-1300],[8.55,-1130],[8.65,-1060],[8.8,-1230],[8.9,-1050],[9.05,-1200],[9.15,-1000],[9.3,-1200],[9.45,-1000],[9.6,-1200],[9.7,-1030],[9.85,-1200],[10.0,-1020],[10.1,-1200],[10.2,-1020],[10.28,-1300],[10.45,-1320],[10.55,-1100],[10.61,-340],[10.65,-500],[10.72,-900],[10.76,-1530],[10.82,-1300],[10.95,-1200],[11.0,-1450],[11.1,-1100],[11.18,-1350],[11.28,-1100],[11.38,-1000],[11.48,-1250],[11.55,-1100],[11.62,-1760],[11.7,-1760],[11.78,-1300],[11.87,-770],[11.89,-3670],[11.93,-3670],[12.02,-3340],[12.05,-1300],[12.1,-1000],[12.18,-1500],[12.3,-1150],[12.4,-1280],[12.55,-1100],[12.7,-1220],[12.85,-1000],[13.0,-1100],[13.15,-950],[13.3,-1150],[13.45,-900],[13.55,-1200],[13.61,-210],[13.65,-1430],[13.7,-1250],[13.85,-1000],[14.0,-1200],[14.15,-970],[14.3,-1200],[14.45,-770],[14.6,-1050],[14.8,-1250],[14.95,-1050],[15.04,-1300],[15.2,-1050],[15.35,-1300],[15.55,-1300],[15.7,-1100],[15.85,-1250],[15.95,-1430],[16.1,-1300],[16.2,-1100],[16.35,-1280],[16.5,-1050],[16.6,-1280],[16.75,-1050],[16.86,-670],[16.92,-1430],[17.05,-1100],[17.2,-1100],[17.3,-750],[17.41,-640],[17.55,-700],[17.7,-500],[17.85,-340],[17.95,-950],[18.05,-1530],[18.1,-1150],[18.2,-1400],[18.3,-1200],[18.4,-1400],[18.5,-1650],[18.62,-1400],[18.7,-1800],[18.78,-2000],[18.85,-1700],[18.92,-1050],[18.97,-440],[19.02,-1400],[19.1,-800],[19.18,-1400],[19.3,-900],[19.39,-110],[19.48,-280],[19.55,-1000],[19.7,-1200],[19.85,-1050],[20.0,-1300],[20.1,-1500],[20.15,-1900],[20.19,-2320],[20.24,-1200],[20.33,-1500],[20.4,-1100],[20.43,-2190],[20.5,-1700],[20.6,-1800],[20.7,-1050],[20.8,-210],[20.85,-1760],[20.92,-800],[21.0,-1500],[21.05,-700],[21.1,-210],[21.16,-1100],[21.25,-1000],[21.4,-650],[21.5,-1150],[21.6,-1300],[21.72,-800],[21.85,-1000],[21.98,-1530],[22.05,-900],[22.15,-1500],[22.3,-800],[22.42,-1250],[22.55,-1000],[22.7,-1150],[22.85,-950],[22.98,-1050],[23.04,-2320],[23.1,-1100],[23.2,-570],[23.32,-800],[23.45,-1100],[23.6,-1000],[23.75,-900],[23.9,-670],[24.02,-1000],[24.12,-1300],[24.3,-1130],[24.5,-1130],[24.7,-1250],[24.95,-1200],[25.2,-1350],[25.4,-1660],[25.48,-1000],[25.58,-440],[25.68,-1000],[25.8,-1400],[25.93,-950],[26.0,-340],[26.07,-1000],[26.2,-1250],[26.4,-1050],[26.55,-800],[26.7,-1100],[26.8,-1430],[26.95,-950],[27.1,-1250],[27.25,-700],[27.35,-1300],[27.47,20],[27.52,-1000],[27.7,-1250],[27.85,-800],[28.05,-1000],[28.3,-1200],[28.6,-1050],[28.8,-1200],[28.99,-1660],[29.1,-1500],[29.25,-1100],[29.45,-950],[29.55,-700],[29.66,350],[29.81,-510],[29.93,-1100],[30.05,-1400],[30.2,-700],[30.3,-1400],[30.39,-1630],[30.5,-1760],[30.58,-1550],[30.8,-1500],[30.98,-1150],[31.1,320],[31.17,320],[31.24,-1100],[31.5,-1250],[31.8,-1150],[32.1,-800],[32.2,-1100],[32.45,-1300]];
const diffC=[[32.6,-850],[32.7,-1150],[32.8,-1000],[32.9,-1150],[33.0,-1000],[33.1,-1150],[33.25,-1030],[33.4,-1000],[33.5,-1170],[33.6,-1000],[33.7,-1300],[33.8,-1170],[33.95,-1300],[34.1,-1150],[34.25,-1300],[34.4,-1150],[34.55,-1050],[34.7,-1230],[34.85,-1300],[35.0,-1350],[35.08,-1430],[35.2,-1150],[35.35,-1100],[35.5,-1100],[35.6,-800],[35.72,-950],[35.85,-950],[35.98,-1000],[36.03,-1300],[36.1,-1860],[36.15,-1860],[36.2,-1250],[36.35,-1150],[36.5,-1100],[36.7,-1130],[36.9,-1050],[37.1,-1100],[37.3,-950],[37.45,-800],[37.5,-570],[37.55,-800],[37.62,-1100],[37.75,-1250],[37.9,-1000],[38.05,-900],[38.2,-1150],[38.3,-1300],[38.45,-1100],[38.55,-1300],[38.65,-1050],[38.73,-1430],[38.82,-1150],[38.95,-1300],[39.1,-1050],[39.25,-1250],[39.4,-1030],[39.55,-1250],[39.7,-1000],[39.85,-1250],[40.0,-1000],[40.2,-1150],[40.35,-1430],[40.45,-1150],[40.6,-1050],[40.75,-1150],[40.9,-1050],[41.05,-1150],[41.25,-1050],[41.45,-1150],[41.6,-1400],[41.7,-1100],[41.9,-1030],[42.1,-1050],[42.3,-1050],[42.4,-950],[42.5,-1170],[42.7,-1170],[43.2,-1170],[43.4,-1170],[43.57,-670],[43.65,-900],[43.8,-1100],[44.0,-1200],[44.25,-1330],[44.45,-1170],[44.6,-1050],[44.9,-1050],[45.2,-950],[45.35,-1050],[45.6,-1250],[45.75,-1330],[45.95,-1170],[46.1,-1170],[46.4,-1000],[46.7,-1050],[46.9,-900],[47.1,-1050],[47.3,-1170],[47.8,-1170],[48.0,-1170],[48.2,-1050],[48.35,-1170],[48.7,-1170],[48.8,-1050],[48.95,-1170],[49.8,-1170],[50.0,-1030],[50.25,-1030],[50.45,-1200],[50.55,-1430],[50.7,-1170],[50.9,-1050],[51.3,-1120],[51.6,-1050],[51.9,-1050],[52.1,-1170],[52.23,-1330],[52.35,-1170],[52.5,-1030],[53.0,-1050],[53.3,-1170],[53.4,-1030],[54.0,-1030],[54.4,-1030],[54.7,-1170],[54.95,-1330],[55.15,-1170],[55.3,-1030],[55.8,-1030],[55.95,-1170],[56.05,-1330],[56.15,-1170],[57.2,-1170],[57.3,-1050],[57.6,-1050],[57.7,-1170],[58.5,-1170],[58.6,-1060],[58.8,-1170],[59.0,-1060],[59.2,-1170],[59.4,-1060],[59.6,-1170],[59.8,-1060],[60.0,-1170],[62.3,-1170],[62.4,-1080],[62.5,-1170],[63.9,-1170],[64.0,-1070],[64.1,-1170],[65.0,-1170],[65.1,-1060],[65.25,-1170],[65.4,-1060],[65.55,-1170],[66.4,-1170],[66.5,-1060],[66.7,-1070],[66.85,-1170],[68.4,-1170],[68.5,-1080],[68.6,-1170],[69.2,-1170],[69.3,-1090],[69.4,-1170],[70,-1170]];
const diffJitter=[[5.75,-1180],[5.85,-1050],[6.0,-1230],[6.15,-1150],[6.25,-1230],[6.35,-1060],[6.45,-1230],[6.55,-1080],[6.65,-1220],[6.75,-1100],[6.85,-1230],[6.95,-1100],[7.05,-1230],[7.15,-1060],[7.25,-1200],[7.35,-1020],[7.45,-1200],[7.7,-1200],[7.82,-1030],[7.97,-1220],[8.12,-1200],[8.6,-1200],[8.72,-1060],[8.85,-1180],[8.97,-1200],[9.1,-1060],[9.22,-1200],[9.37,-1030],[9.52,-1200],[9.65,-1050],[9.78,-1200],[9.92,-1030],[10.05,-1200],[10.15,-1060],[12.25,-1300],[12.35,-1120],[12.48,-1280],[12.62,-1100],[12.78,-1220],[12.92,-1010],[13.07,-1200],[13.22,-980],[13.37,-1170],[13.78,-1000],[13.92,-1200],[14.07,-1000],[14.22,-1200],[14.37,-1000],[14.52,-1200],[14.7,-1100],[14.88,-1050],[15.0,-1200],[15.12,-1280],[15.27,-1060],[15.45,-1180],[15.62,-1120],[15.78,-1280],[16.02,-1280],[16.15,-1280],[16.27,-1120],[16.42,-1270],[16.55,-1100],[16.68,-1280],[24.4,-1280],[24.6,-1130],[24.8,-1270],[25.05,-1200],[25.1,-1280],[28.1,-1250],[28.2,-1050],[28.4,-1250],[28.5,-1060],[28.7,-1230],[28.9,-1200]];

// Reflection positions
const reflections=[5.29,7.47,7.5,7.55,7.6,8.42,10.61,11.86,11.97,12.04,13.61,14.98,15.05,15.13,15.44,15.5,15.58,16.04,16.83,16.92,17.0,17.69,17.82,18.0,18.24,18.93,19.15,19.39,20.16,20.26,20.36,20.46,20.56,20.76,20.86,20.96,21.06,21.16,21.26,21.36,21.8,21.9,22.0,22.1,22.2,22.31,22.62,22.86,22.96,23.06,23.13,23.3,23.4,23.5,23.6,23.74,23.84,23.94,24.04,24.14,24.24,24.34,24.44,24.52,25.4,25.5,25.6,25.7,25.8,25.9,26.0,26.1,26.24,26.55,26.77,27.0,27.32,27.45,27.65,27.87,28.09,28.38,28.6,28.7,28.8,28.9,29.0,29.1,29.2,29.3,29.37,29.66,29.75,29.93,30.15,30.25,30.45,30.67,30.84,31.1,31.27,31.64,31.74,31.84,31.94,32.04,32.14,32.24,32.34,32.45,32.6,32.7,32.8,32.9,33.05,33.5,33.62,33.95,34.05,34.15,34.25,34.35,34.42,34.66,34.76,34.86,34.96,35.06,35.16,35.26,35.36,35.46,35.56,35.68,35.82,35.92,36.02,36.12,36.26,36.39,36.53,36.63,36.73,36.83,36.93,37.03,37.13,37.29,37.46,37.63,37.75,37.85,37.95,38.05,38.15,38.25,38.35,38.45,38.55,38.65,38.75,38.85,38.95,39.05,39.15,39.25,39.38,39.52,39.62,39.72,39.82,39.92,40.02,40.12,40.22,40.32,40.42,40.52,40.62,40.72,40.82,40.92,41.02,41.12,41.22,41.35,41.49,41.59,41.69,41.79,41.91,42.01,42.11,42.21,42.31,42.41,42.51,42.61,42.71,42.81,42.91,43.01,43.11,43.21,43.31,43.41,43.51,43.61,43.71,43.81,43.91,44.01,44.11,44.21,44.31,44.41,44.51,44.61,44.71,44.81,44.91,45.01,45.11,45.21,45.31,45.41,45.51,45.61,45.76,45.87,46.0,46.09,46.19,46.29,46.39,46.49,46.59,46.69,46.79,46.89,46.99,47.09,47.19,47.29,47.39,47.49,47.59,47.69,47.79,47.89,47.99,48.09,48.19,48.28,48.38,48.5,48.63,48.73,48.83,48.93,49.03,49.13,49.23,49.33,49.43,49.53,49.63,49.73,49.83,49.93,50.03,50.13,50.23,50.33,50.43,50.53,50.63,50.73,50.83,50.93,51.06,51.16,51.26,51.36,51.46,51.56,51.66,51.76,51.89,51.98,52.08,52.18,52.28,52.38,52.48,52.58,52.68,52.78,52.88,52.98,53.08,53.18,53.28,53.38,53.48,53.58,53.68,53.78,53.88,53.98,54.08,54.18,54.28,54.38,54.48,54.58,54.68,54.78,54.88,54.98,55.08,55.18,55.28,55.38,55.48,55.58,55.68,55.78,55.88,55.98,56.08,56.18,56.28,56.38,56.48,56.58,56.68,56.78,56.88,56.98,57.08,57.15,57.3,57.4,57.5,57.6,57.7,57.8,57.9,58.0,58.1,58.2,58.3,58.4,58.5,58.6,58.7,58.8,58.9,59.0,59.1,59.2,59.3,59.4,59.5,59.6,59.7,59.8,59.9,60.0,60.1,60.2,60.3,60.4,60.5,60.6,60.7,60.8,60.9,61.0,61.1,61.2,61.3,61.4,61.5,61.6,61.7,61.8,61.9,62.0,62.1,62.2,62.3,62.4,62.5,62.6,62.7,62.8,62.9,63.0,63.1,63.2,63.3,63.4,63.5,63.6,63.7,63.8,63.9,64.0,64.1,64.2,64.3,64.4,64.5,64.6,64.7,64.8,64.9,65.0,65.1,65.2,65.3,65.4,65.5,65.6,65.7,65.8,65.9,66.0,66.1,66.2,66.3,66.4,66.5,66.6,66.7,66.8,66.9,67.0,67.1,67.2,67.3,67.4,67.5,67.6,67.7,67.8,67.9,68.0,68.1,68.2,68.3,68.4,68.5,68.6,68.7,68.8,68.9,69.0,69.1,69.2,69.3,69.4,69.5,69.6,69.7,69.8,69.9,70.0];

// Axis ticks
const mainXTicks=[5,10,15,20,25,30,35,40,45,50,55,60,65,70];
const mainYTicks=[-4000,-2000,0,2000,4000,6000,8000,10000,12000,14000,16000,18000,20000,22000,24000,26000,28000,30000,32000,34000,36000];
const mainYLabels=['\u22124000','\u22122000','0','2000','4000','6000','8000','10,000','12,000','14,000','16,000','18,000','20,000','22,000','24,000','26,000','28,000','30,000','32,000','34,000','36,000'];
const insetXTicks=[40,45,50,55,60,65,70];
const insetYTicks=[1400,1600,1800,2000,2200,2400,2600,2800,3000,3200,3400,3600,3800,4000,4200];
const insetYLabels=['1,400','1,600','1,800','2,000','2,200','2,400','2,600','2,800','3,000','3,200','3,400','3,600','3,800','4,000','4,200'];
const xTitle='Two theta / degrees', yTitle='Counts';

const FONT='"Liberation Sans", Arial, sans-serif';
const W=3749,H=2439;
const xs=a=>a.map(p=>p[0]), ys=a=>a.map(p=>p[1]);
const observed=[].concat(obsLow,obsMid,obsPeaks,obsExtra,obsTail,obsInsetA,obsInsetB,obsInsetC);
const calculated=[].concat(calcMain,calcInset);
const difference=[].concat(diffA,diffC,diffJitter).sort((a,b)=>a[0]-b[0]);
const insetObs=observed.filter(p=>p[0]>=39.68);
const insetCalc=calculated.filter(p=>p[0]>=39.66);

const traces=[
 {type:'scatter',mode:'markers',name:'Observed',x:xs(observed),y:ys(observed),xaxis:'x',yaxis:'y',cliponaxis:false,
  marker:{symbol:'circle-open',size:18,color:'#000',line:{width:5,color:'#000'}}},
 {type:'scatter',mode:'lines',name:'Calculated',x:xs(calculated),y:ys(calculated),xaxis:'x',yaxis:'y',cliponaxis:false,
  line:{color:'#000',width:6}},
 {type:'scatter',mode:'lines',name:'Difference',x:xs(difference),y:ys(difference),xaxis:'x',yaxis:'y',cliponaxis:false,
  line:{color:'#888888',width:5}},
 {type:'scatter',mode:'markers',name:'Reflections',x:reflections,y:reflections.map(()=>-5250),xaxis:'x',yaxis:'y',cliponaxis:false,
  marker:{symbol:'line-ns',size:42,color:'#000',line:{width:5.6,color:'#000'}}},
 {type:'scatter',mode:'markers',name:'Observed (inset)',x:xs(insetObs),y:ys(insetObs),xaxis:'x2',yaxis:'y2',cliponaxis:false,
  marker:{symbol:'circle-open',size:9,color:'#000',line:{width:3,color:'#000'}}},
 {type:'scatter',mode:'lines',name:'Calculated (inset)',x:xs(insetCalc),y:ys(insetCalc),xaxis:'x2',yaxis:'y2',cliponaxis:false,
  line:{color:'#000',width:3}}
];

const layout={
 width:W,height:H,showlegend:false,paper_bgcolor:'#fff',plot_bgcolor:'rgba(0,0,0,0)',
 margin:{l:0,r:0,t:0,b:0},
 font:{family:FONT,color:'#000'},
 xaxis:{domain:[412/W,3649/W],range:[3.77,70],anchor:'y',showgrid:false,zeroline:false,showline:true,linecolor:'#000',linewidth:6,
  tickmode:'array',tickvals:mainXTicks,ticktext:mainXTicks.map(String),ticks:'outside',ticklen:30,tickwidth:4,tickcolor:'#000',
  ticklabelshift:15,ticklabelstandoff:-14,tickfont:{size:60,family:FONT,color:'#000'},
  minor:{tickmode:'linear',tick0:0,dtick:1.25,ticks:'outside',ticklen:19,tickwidth:5,tickcolor:'#888888'},
  title:{text:xTitle,font:{size:73,family:FONT,color:'#000'},standoff:31},automargin:false},
 yaxis:{domain:[(H-2193)/H,(H-65)/H],range:[-5615,36530],anchor:'x',showgrid:false,zeroline:false,showline:true,linecolor:'#000',linewidth:6,
  tickmode:'array',tickvals:mainYTicks,ticktext:mainYLabels,ticks:'outside',ticklen:27,tickwidth:4.5,tickcolor:'#000',
  ticklabelshift:4,tickfont:{size:60,family:FONT,color:'#000'},
  minor:{tickmode:'linear',tick0:0,dtick:500,ticks:'outside',ticklen:18,tickwidth:5,tickcolor:'#888888'},
  title:{text:yTitle,font:{size:73,family:FONT,color:'#000'},standoff:47},automargin:false},
 xaxis2:{domain:[1964/W,3627/W],range:[39.67,70],anchor:'y2',showgrid:false,zeroline:false,showline:true,linecolor:'#000',linewidth:3,
  tickmode:'array',tickvals:insetXTicks,ticktext:insetXTicks.map(String),ticks:'outside',ticklen:15,tickwidth:3,tickcolor:'#000',
  ticklabelshift:7,ticklabelstandoff:-9,tickfont:{size:32,family:FONT,color:'#000'},
  minor:{tickmode:'linear',tick0:0,dtick:1.25,ticks:'outside',ticklen:10,tickwidth:3,tickcolor:'#888888'},
  title:{text:xTitle,font:{size:37,family:FONT,color:'#000'},standoff:17},automargin:false},
 yaxis2:{domain:[(H-1155)/H,(H-88)/H],range:[1386,4323],anchor:'x2',showgrid:false,zeroline:false,showline:true,linecolor:'#000',linewidth:3,
  tickmode:'array',tickvals:insetYTicks,ticktext:insetYLabels,ticks:'outside',ticklen:16,tickwidth:3,tickcolor:'#000',
  ticklabelshift:4,tickfont:{size:32,family:FONT,color:'#000'},
  minor:{tickmode:'linear',tick0:0,dtick:50,ticks:'outside',ticklen:10,tickwidth:3,tickcolor:'#888888'},
  title:{text:yTitle,font:{size:37,family:FONT,color:'#000'},standoff:15},automargin:false}
};
Plotly.newPlot('chart',traces,layout,{staticPlot:true,displayModeBar:false});
</script></body></html>
